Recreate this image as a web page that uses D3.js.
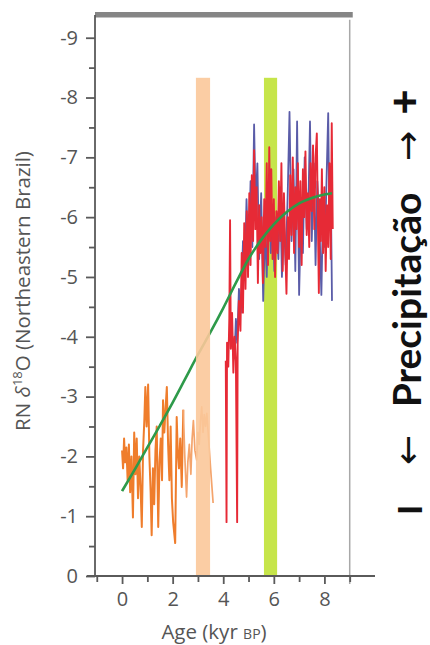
<!DOCTYPE html>
<html>
<head>
<meta charset="utf-8">
<script src="https://cdn.jsdelivr.net/npm/d3@7"></script>
<style>
  body { margin: 0; background: #fff; }
  svg { display: block; }
</style>
</head>
<body>
<svg id="chart" width="430" height="645"></svg>
<script>
// ---- Rio Grande do Norte speleothem δ18O record (kyr BP vs ‰) ----

// Younger record, darker segment
const orangeAgeA = [0.0, 0.04, 0.08, 0.12, 0.17, 0.22, 0.27, 0.32, 0.37, 0.43, 0.48, 0.53, 0.58, 0.63, 0.68, 0.73, 0.78, 0.83, 0.88, 0.92, 0.97, 1.03, 1.08, 1.13, 1.17, 1.22, 1.27, 1.32, 1.37, 1.43, 1.48, 1.53, 1.58, 1.62, 1.67, 1.72, 1.77, 1.82, 1.87, 1.92, 1.97, 2.02, 2.1, 2.16, 2.2, 2.25, 2.3, 2.36, 2.42];
const orangeValA = [-2.1, -1.8, -2.3, -1.9, -2.15, -1.6, -2.2, -1.4, -2.0, -0.98, -2.4, -1.7, -2.3, -1.3, -2.0, -1.5, -0.82, -2.1, -2.6, -3.16, -2.5, -3.2, -2.0, -1.4, -0.68, -1.8, -1.2, -2.1, -2.5, -0.82, -1.9, -2.3, -1.6, -2.94, -2.4, -2.8, -3.16, -2.2, -1.6, -2.5, -1.3, -0.9, -0.55, -2.66, -2.1, -1.8, -2.3, -1.49, -2.78];

// Younger record, lighter segment
const orangeAgeB = [2.42, 2.48, 2.55, 2.6, 2.66, 2.72, 2.77, 2.82, 2.88, 2.95, 3.0, 3.05, 3.1, 3.15, 3.2, 3.25, 3.3, 3.35, 3.42, 3.5, 3.6];
const orangeValB = [-2.78, -2.0, -1.32, -1.9, -2.2, -1.7, -2.3, -2.6, -2.1, -1.94, -2.4, -2.2, -2.6, -2.83, -2.4, -2.7, -2.5, -2.72, -2.3, -1.8, -1.22];

// Older record (red)
const redAge = [4.10, 4.13, 4.15, 4.2, 4.24, 4.27, 4.3, 4.35, 4.4, 4.45, 4.5, 4.55, 4.57, 4.62, 4.68, 4.73, 4.78, 4.83, 4.88, 4.93, 4.98, 5.03, 5.08, 5.13, 5.18, 5.22, 5.27, 5.32, 5.37, 5.42, 5.47, 5.52, 5.57, 5.62, 5.67, 5.72, 5.77, 5.82, 5.86, 5.9, 5.95, 6.0, 6.05, 6.1, 6.15, 6.2, 6.25, 6.3, 6.35, 6.4, 6.45, 6.5, 6.55, 6.6, 6.65, 6.7, 6.75, 6.8, 6.85, 6.9, 6.95, 7.0, 7.05, 7.1, 7.15, 7.2, 7.25, 7.3, 7.35, 7.4, 7.45, 7.5, 7.55, 7.6, 7.65, 7.7, 7.74, 7.78, 7.82, 7.86, 7.9, 7.95, 8.0, 8.05, 8.1, 8.15, 8.2, 8.25, 8.29, 8.33];
const redVal = [-3.6, -0.9, -3.9, -3.5, -4.3, -5.95, -3.8, -4.4, -3.4, -4.0, -3.6, -0.9, -3.9, -4.6, -4.1, -5.4, -4.4, -5.9, -4.8, -6.1, -5.0, -6.4, -5.2, -6.7, -5.6, -7.12, -5.8, -6.5, -4.9, -6.2, -5.4, -6.0, -4.9, -6.3, -5.5, -6.9, -5.2, -7.17, -5.6, -6.8, -5.3, -6.3, -5.0, -6.1, -5.4, -6.6, -5.6, -6.9, -5.1, -6.4, -5.5, -4.72, -6.0, -5.3, -6.7, -5.7, -7.0, -5.4, -6.5, -5.8, -6.9, -5.5, -6.6, -5.2, -6.8, -6.0, -7.1, -5.7, -6.4, -5.5, -6.9, -6.1, -7.2, -5.8, -7.0, -7.4, -6.0, -4.73, -6.3, -5.6, -6.8, -5.4, -6.5, -5.1, -6.2, -5.5, -6.9, -5.3, -7.57, -5.8];

// Older record, second profile (blue)
const blueAge = [4.45, 4.5, 4.55, 4.62, 4.7, 4.78, 4.85, 4.92, 5.0, 5.08, 5.15, 5.22, 5.28, 5.35, 5.42, 5.5, 5.58, 5.65, 5.72, 5.8, 5.88, 5.95, 6.02, 6.1, 6.18, 6.25, 6.32, 6.4, 6.47, 6.55, 6.62, 6.7, 6.78, 6.85, 6.92, 7.0, 7.08, 7.15, 7.22, 7.3, 7.38, 7.43, 7.5, 7.58, 7.65, 7.72, 7.8, 7.88, 7.95, 8.02, 8.1, 8.15, 8.2, 8.25, 8.3];
const blueVal = [-3.7, -4.3, -3.9, -4.8, -4.4, -5.6, -5.0, -6.3, -5.2, -6.6, -5.5, -7.55, -6.2, -6.9, -5.3, -6.4, -4.6, -5.8, -5.0, -6.6, -5.4, -6.2, -5.1, -6.0, -5.3, -6.5, -5.0, -5.9, -5.2, -6.4, -7.76, -5.6, -6.8, -5.1, -7.6, -4.7, -6.2, -5.4, -7.0, -5.8, -6.5, -7.6, -5.6, -6.9, -5.2, -6.6, -5.9, -4.7, -6.3, -5.5, -6.9, -7.74, -5.8, -6.6, -4.6];

// Long-term trend
const trendAge = [0, 0.5, 1, 1.5, 2, 2.5, 3, 3.5, 4, 4.5, 5, 5.5, 6, 6.5, 7, 7.5, 8, 8.3];
const trendVal = [-1.42, -1.78, -2.15, -2.52, -2.9, -3.3, -3.7, -4.08, -4.48, -4.9, -5.3, -5.62, -5.88, -6.08, -6.23, -6.32, -6.38, -6.4];

// Highlighted intervals [start, end] in kyr BP
const bandOrange = [2.92, 3.48];
const bandGreen = [5.61, 6.13];
const bandTop = -8.33;

// Axis ticks
const yMajor = [0, -1, -2, -3, -4, -5, -6, -7, -8, -9];
const yMinor = [-0.5, -1.5, -2.5, -3.5, -4.5, -5.5, -6.5, -7.5, -8.5];
const xMajor = [0, 2, 4, 6, 8];
const xMinor = [-1, 1, 3, 5, 7, 9];

const svg = d3.select("#chart");
const x = d3.scaleLinear().domain([-1.07, 10]).range([95, 375]);
const y = d3.scaleLinear().domain([0, -9.38]).range([576, 15]);

const zip = (a, b) => a.map((v, i) => [v, b[i]]);
const line = d3.line().x(d => x(d[0])).y(d => y(d[1]));

// green interval sits behind the records
svg.append("rect")
  .attr("x", x(bandGreen[0])).attr("width", x(bandGreen[1]) - x(bandGreen[0]))
  .attr("y", y(bandTop)).attr("height", y(0) - y(bandTop))
  .attr("fill", "#c6e54a");

// right frame line
svg.append("line")
  .attr("x1", x(9)).attr("x2", x(9)).attr("y1", y(-9.3)).attr("y2", y(0) + 8)
  .attr("stroke", "#a8a8a8").attr("stroke-width", 1.5);

// records
svg.append("path").datum(zip(orangeAgeA, orangeValA)).attr("d", line)
  .attr("fill", "none").attr("stroke", "#ef7d2c").attr("stroke-width", 2).attr("stroke-linejoin", "round");
svg.append("path").datum(zip(orangeAgeB, orangeValB)).attr("d", line)
  .attr("fill", "none").attr("stroke", "#f4a46c").attr("stroke-width", 1.7).attr("stroke-linejoin", "round");
svg.append("path").datum(zip(blueAge, blueVal)).attr("d", line)
  .attr("fill", "none").attr("stroke", "#5a5ca8").attr("stroke-width", 1.8).attr("stroke-linejoin", "round");
svg.append("path").datum(zip(redAge, redVal)).attr("d", line)
  .attr("fill", "none").attr("stroke", "#e62a36").attr("stroke-width", 1.9).attr("stroke-linejoin", "round");

// trend curve
svg.append("path").datum(zip(trendAge, trendVal))
  .attr("d", d3.line().x(d => x(d[0])).y(d => y(d[1])).curve(d3.curveMonotoneX))
  .attr("fill", "none").attr("stroke", "#2e9a4a").attr("stroke-width", 2.6);

// orange interval, slightly translucent over the records
svg.append("rect")
  .attr("x", x(bandOrange[0])).attr("width", x(bandOrange[1]) - x(bandOrange[0]))
  .attr("y", y(bandTop)).attr("height", y(0) - y(bandTop))
  .attr("fill", "#fbc89a").attr("opacity", 0.9);

// top frame bar
svg.append("rect")
  .attr("x", x(-1.07)).attr("width", x(9.12) - x(-1.07))
  .attr("y", 12).attr("height", 5.5)
  .attr("fill", "#858585");

// y axis
const yAxis = svg.append("g").attr("transform", `translate(${x(-1.07)},0)`)
  .call(d3.axisLeft(y).tickValues(yMajor).tickSize(9).tickPadding(8)
    .tickFormat(d => d === 0 ? "0" : "-" + Math.abs(d)));
svg.append("g").attr("transform", `translate(${x(-1.07)},0)`)
  .call(d3.axisLeft(y).tickValues(yMinor).tickSize(6).tickFormat(""))
  .select(".domain").remove();
yAxis.select(".domain").attr("d", `M0,${y(-9.38)}V${y(0)}`);

// x axis
const xAxis = svg.append("g").attr("transform", `translate(0,${y(0)})`)
  .call(d3.axisBottom(x).tickValues(xMajor).tickSize(8).tickPadding(8));
svg.append("g").attr("transform", `translate(0,${y(0)})`)
  .call(d3.axisBottom(x).tickValues(xMinor).tickSize(6).tickFormat(""))
  .select(".domain").remove();
xAxis.select(".domain").attr("d", `M87,0H${x(10)}`);

svg.selectAll(".tick line, .domain").attr("stroke", "#5a5a5a").attr("stroke-width", 1.8);
svg.selectAll(".tick text").attr("fill", "#555").attr("font-family", "'Open Sans', sans-serif").attr("font-size", 20);

// axis titles
const xt = svg.append("text").attr("x", 214).attr("y", 639).attr("text-anchor", "middle")
  .attr("font-family", "'Open Sans', sans-serif").attr("font-size", 20.5).attr("fill", "#555");
xt.append("tspan").text("Age (kyr ");
xt.append("tspan").attr("font-size", 14).text("BP");
xt.append("tspan").text(")");

const yt = svg.append("text").attr("transform", "translate(30,291) rotate(-90)").attr("text-anchor", "middle")
  .attr("font-family", "'Open Sans', sans-serif").attr("font-size", 20.5).attr("fill", "#555");
yt.append("tspan").text("RN ");
yt.append("tspan").attr("font-style", "italic").text("δ");
yt.append("tspan").attr("font-size", 13).attr("dy", -8).text("18");
yt.append("tspan").attr("dy", 8).text("O (Northeastern Brazil)");

// precipitation scale on the right
const side = svg.append("g").attr("fill", "#111").attr("font-family", "Lato, sans-serif");
side.append("text").attr("transform", "translate(421,300) rotate(-90)").attr("text-anchor", "middle")
  .attr("font-size", 39).attr("font-weight", 700)
  .text("Precipitação");
side.append("text").attr("transform", "translate(420,450) rotate(-90)").attr("text-anchor", "middle")
  .attr("font-family", "'DejaVu Sans', sans-serif").attr("font-size", 36).text("←");
side.append("text").attr("transform", "translate(420,146) rotate(-90)").attr("text-anchor", "middle")
  .attr("font-family", "'DejaVu Sans', sans-serif").attr("font-size", 36).text("→");
side.append("text").attr("transform", "translate(422,510) rotate(-90)").attr("text-anchor", "middle")
  .attr("font-size", 32).attr("font-weight", 900).text("I");
side.append("text").attr("transform", "translate(420,102) rotate(-90)").attr("text-anchor", "middle")
  .attr("font-size", 44).attr("font-weight", 900).text("+");
</script>
</body>
</html>
